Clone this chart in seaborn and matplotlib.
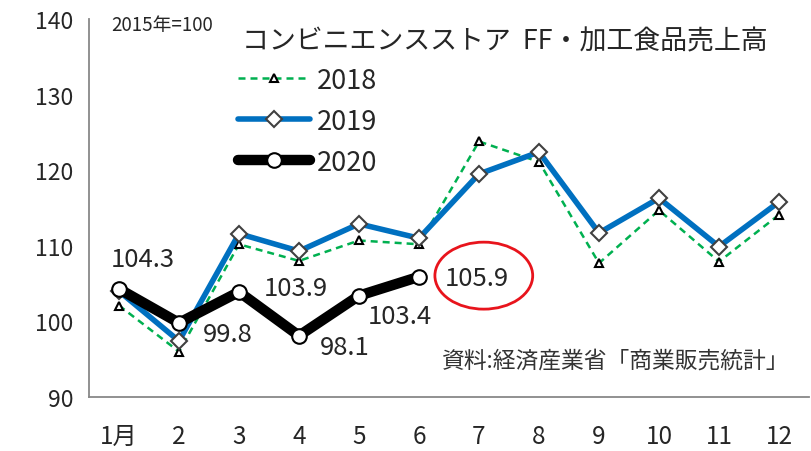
import pandas as pd
import matplotlib.pyplot as plt
import seaborn as sns
from matplotlib.patches import Ellipse

months = ['1月', '2', '3', '4', '5', '6', '7', '8', '9', '10', '11', '12']
sales_2018 = [102.1, 96.0, 110.2, 108.0, 110.7, 110.2, 123.8, 121.1, 107.7, 114.7, 107.9, 114.1]
sales_2019 = [104.0, 97.4, 111.6, 109.3, 112.9, 111.0, 119.5, 122.4, 111.7, 116.3, 109.9, 115.8]
sales_2020 = [104.3, 99.8, 103.9, 98.1, 103.4, 105.9]

sns.set_style('white')
plt.rcParams['font.family'] = ['Noto Sans CJK JP', 'DejaVu Sans']

fig = plt.figure(figsize=(8.12, 4.52), dpi=100)
ax = fig.add_axes([0.1096, 0.1195, 0.8867, 0.8363])

x_all = list(range(12))
sns.lineplot(x=x_all, y=sales_2018, ax=ax, color='#00B050', lw=1.8,
             marker='^', markersize=5.5, markerfacecolor='white', markeredgecolor='black',
             markeredgewidth=1.5, label='2018')
ax.lines[-1].set_linestyle((0, (2.8, 2.0)))
sns.lineplot(x=x_all, y=sales_2019, ax=ax, color='#0070C0', lw=4,
             marker='D', markersize=8, markerfacecolor='white', markeredgecolor='#404040',
             markeredgewidth=1.5, label='2019')
sns.lineplot(x=x_all[:6], y=sales_2020, ax=ax, color='black', lw=7.5,
             marker='o', markersize=10.5, markerfacecolor='white', markeredgecolor='black',
             markeredgewidth=1.5, label='2020')

# data labels for 2020 (offset from each point, in data units)
offsets = [(0.4, 4.0), (0.82, -1.5), (0.95, 0.5), (0.77, -1.5), (0.68, -2.7), (0.97, -0.2)]
for i, (v, (dx, dy)) in enumerate(zip(sales_2020, offsets)):
    ax.text(i + dx, v + dy, f'{v:.1f}', fontsize=18.5, ha='center', va='center')

ax.add_patch(Ellipse((6.08, 106.05), 1.63, 8.86, fill=False, edgecolor='#E8141C', lw=2))

ax.set_xlim(-0.5, 11.5)
ax.set_ylim(90, 140)
ax.set_yticks(range(90, 141, 10))
ax.set_xticks(x_all)
ax.set_xticklabels(months)
ax.set_xticks([i - 0.5 for i in range(13)], minor=True)
ax.tick_params(axis='x', which='major', length=0, labelsize=17.5, pad=19)
ax.tick_params(axis='x', which='minor', length=6, width=1.2, color='#888888', direction='out')
ax.tick_params(axis='y', length=7, width=1.2, color='#888888', direction='out', labelsize=16.5, pad=4)
for side in ['top', 'right']:
    ax.spines[side].set_visible(False)
for side in ['left', 'bottom']:
    ax.spines[side].set_color('#888888')
    ax.spines[side].set_linewidth(1.3)
ax.set_xlabel('')
ax.set_ylabel('')

ax.legend(loc='upper left', bbox_to_anchor=(0.207, 0.874), frameon=False, fontsize=19.5,
          handlelength=2.65, handletextpad=0.26, labelspacing=0.52, borderpad=0,
          borderaxespad=0)

fig.text(0.298, 0.908, 'コンビニエンスストア  FF・加工食品売上高', fontsize=19.4, va='center')
fig.text(0.2, 0.943, '2015年=100', fontsize=13.5, va='center', ha='center')
ax.text(11.18, 94.9, '資料:経済産業省「商業販売統計」', fontsize=16.4, ha='right', va='center',
        color='#333333')

fig.savefig('out.png', dpi=100)
